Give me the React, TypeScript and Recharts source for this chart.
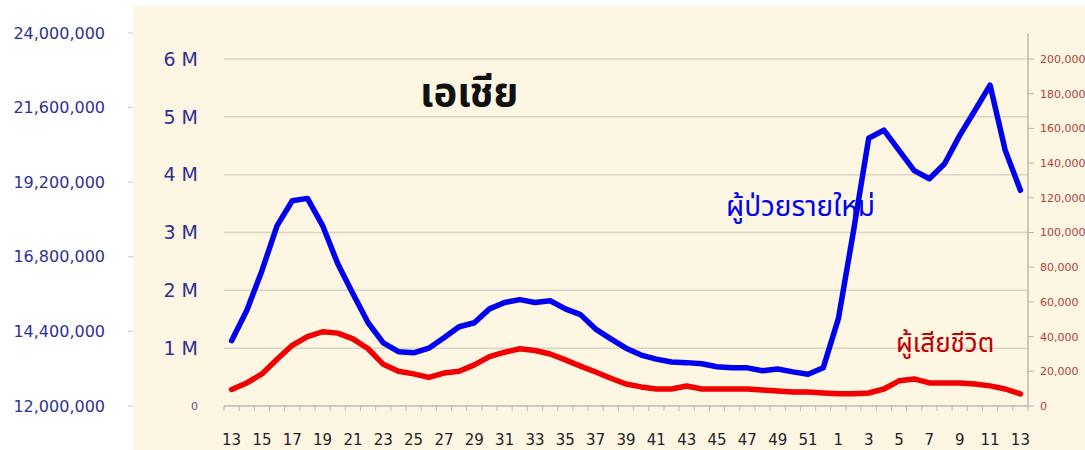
import React from "react";
import {
  ComposedChart,
  Line,
  XAxis,
  YAxis,
  ReferenceLine,
} from "recharts";

const weeks: string[] = [
  "13", "14", "15", "16", "17", "18", "19", "20", "21", "22",
  "23", "24", "25", "26", "27", "28", "29", "30", "31", "32",
  "33", "34", "35", "36", "37", "38", "39", "40", "41", "42",
  "43", "44", "45", "46", "47", "48", "49", "50", "51", "52",
  "1", "2", "3", "4", "5", "6", "7", "8", "9", "10",
  "11", "12", "13",
];

// new cases (millions)
const newCases: number[] = [
  1.13, 1.65, 2.34, 3.12, 3.55, 3.59, 3.12, 2.46, 1.94, 1.44,
  1.09, 0.94, 0.92, 1.0, 1.18, 1.37, 1.44, 1.68, 1.79, 1.84,
  1.79, 1.82, 1.68, 1.58, 1.33, 1.16, 1.0, 0.88, 0.81, 0.76,
  0.75, 0.73, 0.68, 0.66, 0.66, 0.61, 0.64, 0.59, 0.55, 0.66,
  1.51, 3.03, 4.63, 4.77, 4.42, 4.07, 3.93, 4.19, 4.68, 5.11,
  5.55, 4.42, 3.73,
];

// deaths
const deaths: number[] = [
  9500, 13300, 18500, 27000, 35000, 40000, 42800, 42000, 38700, 33000,
  24000, 20000, 18500, 16500, 19000, 20000, 23700, 28500, 31000, 33000,
  32000, 30000, 26600, 23000, 19600, 16000, 12700, 11000, 9800, 9800,
  11500, 9800, 9800, 9800, 9800, 9200, 8700, 8100, 8100, 7500,
  7000, 7000, 7500, 9800, 14500, 15600, 13300, 13300, 13300, 12700,
  11600, 9800, 7000,
];

const outerTicks: number[] = [12000000, 14400000, 16800000, 19200000, 21600000, 24000000];
const caseTicks: number[] = [0, 1000000, 2000000, 3000000, 4000000, 5000000, 6000000];
const deathTicks: number[] = [0, 20000, 40000, 60000, 80000, 100000, 120000, 140000, 160000, 180000, 200000];

const title = "เอเชีย";
const casesLabel = "ผู้ป่วยรายใหม่";
const deathsLabel = "ผู้เสียชีวิต";

const data = weeks.map((w, i) => ({
  idx: i,
  week: w,
  cases: newCases[i] * 1000000,
  deaths: deaths[i],
  outer: null as number | null,
}));

const NAVY = "#2E3192";
const FONT = "'DejaVu Sans', Verdana, sans-serif";
const THAI = "'Noto Sans Thai', 'Noto Sans Thai UI', 'Tlwg Typo', 'Loma', 'Garuda', 'Noto Sans', sans-serif";

const X_TICK_SIZE = 5;
const X_TICK_MARGIN = 23;

const XTick = (props: any) => {
  const { x, y, payload, index } = props;
  const half = payload && typeof payload.offset === "number" ? payload.offset : 0;
  const top = y - X_TICK_MARGIN - X_TICK_SIZE;
  const bottom = y - X_TICK_MARGIN;
  return (
    <g>
      <line x1={x - half} x2={x - half} y1={top} y2={bottom} stroke="#BDBDBD" strokeWidth={1} />
      {index === weeks.length - 1 ? (
        <line x1={x + half} x2={x + half} y1={top} y2={bottom} stroke="#BDBDBD" strokeWidth={1} />
      ) : null}
      {index % 2 === 0 ? (
        <text x={x} y={y} dy="0.71em" textAnchor="middle" fontFamily={FONT} fontSize={15} fill="#222">
          {weeks[payload.value]}
        </text>
      ) : null}
    </g>
  );
};

const CaseTick = (props: any) => {
  const { x, y, payload } = props;
  if (payload.value === 0) {
    return (
      <text x={x} y={y} dy="0.355em" textAnchor="end" fontFamily={FONT} fontSize={11} fill="#55558a">
        0
      </text>
    );
  }
  return (
    <text x={x} y={y} dy="0.355em" textAnchor="end" fontFamily={FONT} fontSize={19} fill={NAVY}>
      {`${payload.value / 1000000} M`}
    </text>
  );
};

export default function App() {
  return (
    <div style={{ position: "absolute", left: 0, top: 0, width: 1085, height: 450, background: "#fff", overflow: "hidden" }}>
      <div style={{ position: "absolute", left: 133, top: 6, width: 952, height: 444, background: "#FDF6E2" }} />
      <div style={{ position: "absolute", left: 0, top: 0 }}>
        <ComposedChart
          width={1085}
          height={450}
          data={data}
          margin={{ top: 33, right: 0, bottom: 0, left: 5 }}
        >
          <XAxis
            dataKey="idx"
            type="category"
            scale="band"
            interval={0}
            tick={<XTick />}
            tickSize={X_TICK_SIZE}
            tickMargin={X_TICK_MARGIN}
            height={44}
            tickLine={false}
            axisLine={{ stroke: "#B8B8B8", strokeWidth: 1.5 }}
          />
          <YAxis
            yAxisId="cases"
            orientation="left"
            type="number"
            domain={[0, 6450000]}
            ticks={caseTicks}
            width={91}
            tick={<CaseTick />}
            tickLine={false}
            axisLine={false}
            tickSize={0}
            tickMargin={26}
          />
          <YAxis
            yAxisId="outer"
            orientation="left"
            type="number"
            domain={[12000000, 24000000]}
            ticks={outerTicks}
            allowDataOverflow
            width={128}
            tickFormatter={(v: number) => v.toLocaleString("en-US")}
            tick={{ fontFamily: FONT, fontSize: 16, fill: NAVY }}
            tickLine={{ stroke: "#C8C8C8" }}
            axisLine={false}
            tickSize={5}
            tickMargin={23}
          />
          <YAxis
            yAxisId="deaths"
            orientation="right"
            type="number"
            domain={[0, 215000]}
            ticks={deathTicks}
            width={57}
            tickFormatter={(v: number) => v.toLocaleString("en-US")}
            tick={{ fontFamily: FONT, fontSize: 11, fill: "#B0413E" }}
            tickLine={{ stroke: "#B8B8B8" }}
            axisLine={{ stroke: "#B8B8B8", strokeWidth: 1.5 }}
            tickSize={6}
            tickMargin={6}
          />
          {caseTicks
            .filter((t) => t > 0)
            .map((t) => (
              <ReferenceLine key={t} yAxisId="cases" y={t} stroke="#D9D4C4" strokeWidth={1.5} />
            ))}
          <Line
            yAxisId="outer"
            dataKey="outer"
            stroke="none"
            dot={false}
            activeDot={false}
            legendType="none"
            isAnimationActive={false}
          />
          <Line
            yAxisId="deaths"
            dataKey="deaths"
            type="linear"
            stroke="#F00000"
            strokeWidth={5.5}
            dot={false}
            activeDot={false}
            strokeLinejoin="round"
            strokeLinecap="round"
            isAnimationActive={false}
          />
          <Line
            yAxisId="cases"
            dataKey="cases"
            type="linear"
            stroke="#0000F0"
            strokeWidth={5.5}
            dot={false}
            activeDot={false}
            strokeLinejoin="round"
            strokeLinecap="round"
            isAnimationActive={false}
          />
        </ComposedChart>
      </div>
      <div style={{ position: "absolute", left: 420, top: 74, fontFamily: THAI, fontSize: 40, fontWeight: 700, color: "#111", lineHeight: 1 }}>
        {title}
      </div>
      <div style={{ position: "absolute", left: 726, top: 194, fontFamily: THAI, fontSize: 28, color: "#0000F0", lineHeight: 1 }}>
        {casesLabel}
      </div>
      <div style={{ position: "absolute", left: 896, top: 331, fontFamily: THAI, fontSize: 26, color: "#C00000", lineHeight: 1 }}>
        {deathsLabel}
      </div>
    </div>
  );
}
